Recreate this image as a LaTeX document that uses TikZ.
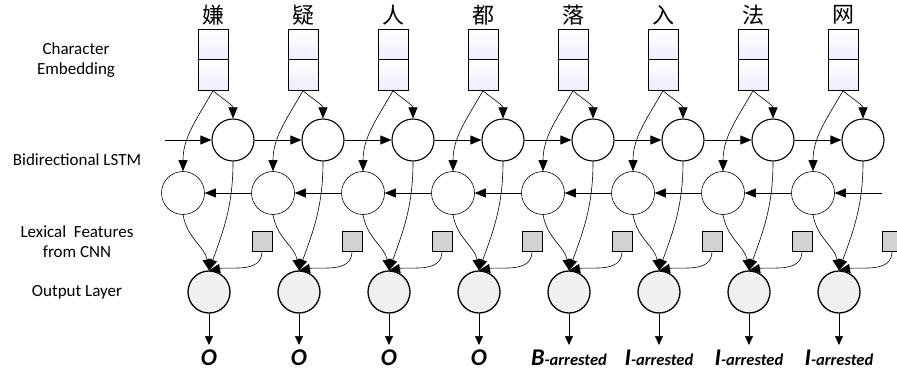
\documentclass[tikz,border=0pt]{standalone}
\usepackage{fontspec}
\setmainfont{Carlito}
\newfontfamily\cjk{Noto Sans CJK SC}
\usetikzlibrary{arrows.meta}

\begin{document}
\begin{tikzpicture}[x=1pt, y=-1pt,
    emb/.style={draw, line width=1pt, minimum width=30pt, minimum height=30.5pt, inner sep=0pt, top color=white, bottom color=blue!7},
    fwd/.style={circle, draw, line width=1.1pt, minimum size=42pt, inner sep=0pt},
    bwd/.style={circle, draw, line width=0.6pt, minimum size=43pt, inner sep=0pt},
    lex/.style={draw, line width=0.9pt, fill=gray!35, minimum size=20pt, inner sep=0pt},
    outn/.style={circle, draw, line width=1.3pt, fill=gray!12, minimum size=42pt, inner sep=0pt},
    conn/.style={-{Triangle[length=11pt, width=9pt]}, line width=0.6pt},
    tag/.style={font=\fontsize{17}{20}\selectfont, align=center},
    big/.style={font=\fontsize{24}{26}\selectfont\bfseries\itshape}]
    \useasboundingbox (0,0) rectangle (897,377);

    % Layer names on the left
    \node[tag] (nemb) at (76,60) {Character\\Embedding};
    \node[tag] (nlstm) at (77,160) {Bidirectional LSTM};
    \node[tag] (nlex) at (77,242) {Lexical~~Features\\from CNN};
    \node[tag] (nout) at (77,292) {Output Layer};

    % One column per character
    \foreach \i/\c in {1/嫌,2/疑,3/人,4/都,5/落,6/入,7/法,8/网} {
        \pgfmathsetmacro{\xx}{213+90*(\i-1)}
        \node[font=\cjk\fontsize{22}{24}\selectfont] (ch\i) at (\xx,15) {\c};
        \node[emb] (embt\i) at (\xx,44.5) {};
        \node[emb] (emb\i) at (\xx,75) {};
        \node[fwd] (fw\i) at (\xx+20,140) {};
        \node[bwd] (bw\i) at (\xx-30,193) {};
        \node[lex] (lex\i) at (\xx+49,241) {};
        \node[outn] (out\i) at (\xx-4,292) {};
        \coordinate (tip\i) at (\xx-4,345);
    }

    % Output tags
    \node[big] (lbl1) at (out1|-0,358) {O};
    \node[big] (lbl2) at (out2|-0,358) {O};
    \node[big] (lbl3) at (out3|-0,358) {O};
    \node[big] (lbl4) at (out4|-0,358) {O};
    \node[big] (lbl5) at (out5|-0,358) {B{\fontsize{16.5}{18}\selectfont-arrested}};
    \foreach \i in {6,7,8} { \node[big] (lbl\i) at (out\i|-0,358) {I{\fontsize{16.5}{18}\selectfont-arrested}}; }

    % Embedding to LSTM, LSTM and features to output
    \foreach \i in {1,...,8} {
        \draw[conn] (emb\i.south) to[out=-40, in=90] (fw\i.north);
        \draw[conn] (emb\i.south) to[out=-120, in=90] (bw\i.north);
        \draw[conn] (fw\i.south) to[out=-90, in=70] (out\i.north);
        \draw[conn] (bw\i.south) to[out=-80, in=100] (out\i.north);
        \draw[conn] (lex\i.south) to[out=-90, in=10] (out\i.north);
        \draw[-{Triangle[length=9pt, width=8pt]}, line width=0.6pt] (out\i.south) -- (tip\i);
    }

    % Forward and backward chains
    \coordinate (fin) at (165,140);
    \coordinate (bin) at (882,193);
    \draw[conn] (fin) -- (fw1.west);
    \draw[conn] (bin) -- (bw8.east);
    \foreach \i/\j in {1/2,2/3,3/4,4/5,5/6,6/7,7/8} {
        \draw[conn] (fw\i.east) -- (fw\j.west);
        \draw[conn] (bw\j.west) -- (bw\i.east);
    }
\end{tikzpicture}
\end{document}
